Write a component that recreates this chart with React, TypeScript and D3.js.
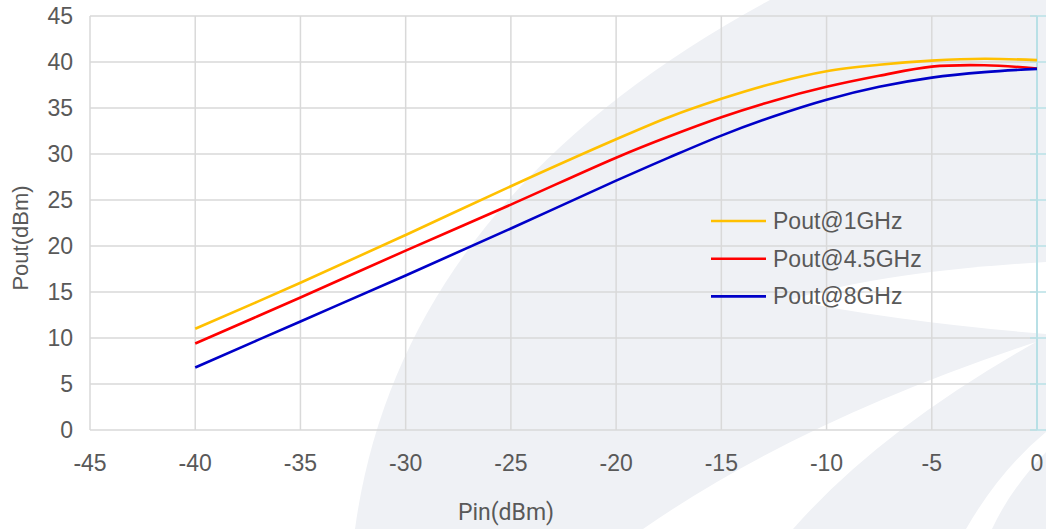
import { useRef, useEffect } from 'react';
import * as d3 from 'd3';

// ---------------------------------------------------------------------------
// Data
// ---------------------------------------------------------------------------
const PIN = [-40, -35, -30, -25, -20, -17.5, -15, -12.5, -10, -7.5, -5, -2.5, 0];
const POUT_1G = [11.0, 16.0, 21.2, 26.5, 31.6, 34.0, 36.0, 37.7, 39.0, 39.7, 40.15, 40.35, 40.2];
const POUT_4G5 = [9.4, 14.4, 19.5, 24.5, 29.6, 31.9, 34.0, 35.8, 37.3, 38.5, 39.5, 39.65, 39.3];
const POUT_8G = [6.8, 11.8, 16.8, 21.9, 27.1, 29.6, 32.0, 34.1, 35.9, 37.3, 38.3, 38.9, 39.25];

const SERIES = [
  { name: 'Pout@1GHz', values: POUT_1G, color: '#FFC000' },
  { name: 'Pout@4.5GHz', values: POUT_4G5, color: '#FF0000' },
  { name: 'Pout@8GHz', values: POUT_8G, color: '#0000C8' },
];

const X_TICKS = [-45, -40, -35, -30, -25, -20, -15, -10, -5, 0];
const Y_TICKS = [0, 5, 10, 15, 20, 25, 30, 35, 40, 45];

const GRID = '#d9d9d9';
const TEXT = '#595959';
const EDGE = '#b8e0e6';
const WATERMARK = '#eff1f5';
const FONT = '"Liberation Sans", Arial, sans-serif';

const W = 1046;
const H = 529;

export default function App() {
  const svgRef = useRef<SVGSVGElement>(null);

  useEffect(() => {
    const svg = svgRef.current;
    if (!svg) return;
    document.body.style.margin = '0';

    const sel = d3.select(svg);
    sel.selectAll('*').remove();

    const x = d3.scaleLinear().domain([-45, 0]).range([90, 1037]);
    const y = d3.scaleLinear().domain([0, 45]).range([430, 16]);

    // faint background watermark
    const wm = sel.append('g');
    wm.append('path')
      .attr('d', 'M770,0 Q400,200 355,529 L1046,529 L1046,0 Z')
      .attr('fill', WATERMARK);
    wm.append('path')
      .attr('d', 'M790,300 Q880,272 1046,262 L1046,334 Q900,322 790,300 Z')
      .attr('fill', '#fff');
    wm.append('path')
      .attr('d', 'M643,529 Q800,420 1036,342 Q880,430 793,529 Z')
      .attr('fill', '#fff');
    wm.append('path')
      .attr('d', 'M966,529 Q1000,470 1046,432 L1046,452 Q1010,490 992,529 Z')
      .attr('fill', '#fff');

    const g = sel.append('g');

    // grid
    X_TICKS.filter((t) => t !== 0).forEach((t) => {
      g.append('line')
        .attr('x1', x(t)).attr('x2', x(t))
        .attr('y1', y(45)).attr('y2', y(0))
        .attr('stroke', GRID).attr('stroke-width', 1.5);
    });
    Y_TICKS.forEach((t) => {
      g.append('line')
        .attr('x1', x(-45)).attr('x2', x(0))
        .attr('y1', y(t)).attr('y2', y(t))
        .attr('stroke', GRID).attr('stroke-width', 1.5);
      g.append('line')
        .attr('x1', x(0) - 7).attr('x2', W)
        .attr('y1', y(t)).attr('y2', y(t))
        .attr('stroke', EDGE).attr('stroke-width', 1.5);
    });
    g.append('line')
      .attr('x1', x(0)).attr('x2', x(0))
      .attr('y1', y(45)).attr('y2', y(0))
      .attr('stroke', EDGE).attr('stroke-width', 2);

    // tick labels
    Y_TICKS.forEach((t) => {
      g.append('text')
        .attr('x', 73).attr('y', y(t))
        .attr('text-anchor', 'end').attr('dominant-baseline', 'central')
        .attr('fill', TEXT).attr('font-size', '23px').attr('font-family', FONT)
        .text(t);
    });
    X_TICKS.forEach((t) => {
      g.append('text')
        .attr('x', x(t)).attr('y', 463)
        .attr('text-anchor', 'middle').attr('dominant-baseline', 'central')
        .attr('fill', TEXT).attr('font-size', '23px').attr('font-family', FONT)
        .text(t);
    });

    // axis titles
    g.append('text')
      .attr('transform', 'translate(20,238) rotate(-90)')
      .attr('text-anchor', 'middle').attr('dominant-baseline', 'central')
      .attr('fill', TEXT).attr('font-size', '22px').attr('font-family', FONT)
      .text('Pout(dBm)');
    g.append('text')
      .attr('x', 506).attr('y', 512)
      .attr('text-anchor', 'middle').attr('dominant-baseline', 'central')
      .attr('fill', TEXT).attr('font-size', '23px').attr('font-family', 'Roboto, sans-serif')
      .text('Pin(dBm)');

    // curves
    const line = d3
      .line<number>()
      .x((_, i) => x(PIN[i]))
      .y((d) => y(d))
      .curve(d3.curveCatmullRom.alpha(0.5));

    SERIES.forEach((s) => {
      g.append('path')
        .datum(s.values)
        .attr('d', line)
        .attr('fill', 'none')
        .attr('stroke', s.color)
        .attr('stroke-width', 2.6);
    });

    // legend
    SERIES.forEach((s, i) => {
      const ly = 221 + i * 37.7;
      g.append('line')
        .attr('x1', 711).attr('x2', 766)
        .attr('y1', ly).attr('y2', ly)
        .attr('stroke', s.color).attr('stroke-width', 2.6);
      g.append('text')
        .attr('x', 773).attr('y', ly)
        .attr('dominant-baseline', 'central')
        .attr('fill', TEXT).attr('font-size', '23px').attr('font-family', FONT)
        .text(s.name);
    });
  }, []);

  return (
    <svg
      ref={svgRef}
      width={W}
      height={H}
      style={{ position: 'absolute', left: 0, top: 0, background: '#fff' }}
    />
  );
}
